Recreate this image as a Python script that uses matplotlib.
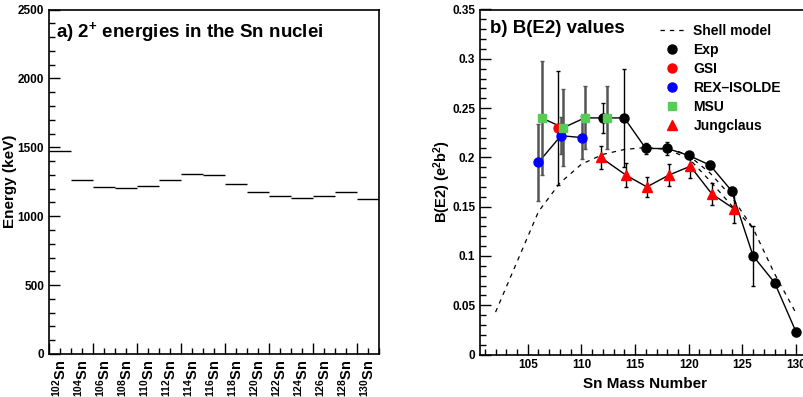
import numpy as np
import matplotlib
matplotlib.use('Agg')
import matplotlib.pyplot as plt
from matplotlib.ticker import MultipleLocator, FixedLocator
from matplotlib.lines import Line2D

plt.rcParams['font.family'] = ['Liberation Sans', 'DejaVu Sans']
plt.rcParams['font.weight'] = 'bold'
plt.rcParams['axes.labelweight'] = 'bold'
plt.rcParams['mathtext.fontset'] = 'custom'
plt.rcParams['mathtext.rm'] = 'Liberation Sans:bold'
plt.rcParams['mathtext.it'] = 'Liberation Sans:bold'
plt.rcParams['mathtext.bf'] = 'Liberation Sans:bold'

# a) energie 2+ (keV)
mass = [102, 104, 106, 108, 110, 112, 114, 116, 118, 120, 122, 124, 126, 128, 130]
energy = [1475, 1262, 1209, 1206, 1216, 1260, 1306, 1296, 1235, 1175, 1143, 1134, 1143, 1172, 1126]
labels = [r'$^{%d}$Sn' % m for m in mass]

# b) B(E2)
shell_x = [102, 104, 106, 108, 110, 112, 114, 116, 118, 120, 122, 124, 126, 128, 130]
shell_y = [0.043, 0.094, 0.145, 0.174, 0.193, 0.203, 0.208, 0.210, 0.208, 0.199, 0.176, 0.151, 0.128, 0.082, 0.042]
shell2_x = [119, 120, 122, 124, 126]
shell2_y = [0.206, 0.202, 0.184, 0.160, 0.128]

exp_x = [112, 114, 116, 118, 120, 122, 124, 126, 128, 130]
exp_y = [0.240, 0.240, 0.209, 0.209, 0.202, 0.192, 0.166, 0.100, 0.073, 0.023]
exp_err = [0.015, 0.050, 0.006, 0.007, 0.003, 0.004, 0.004, 0.030, 0.004, 0.004]

gsi_x = [107.85]
gsi_y = [0.230]
gsi_err = [0.058]

rex_x = [106.0, 108.1, 110.1]
rex_y = [0.195, 0.222, 0.220]
rex_err = [0.039, 0.019, 0.022]

msu_x = [106.3, 108.3, 110.3, 112.35]
msu_y = [0.240, 0.230, 0.240, 0.240]
msu_err = [0.058, 0.039, 0.032, 0.032]

jung_x = [111.8, 114.15, 116.1, 118.15, 120.15, 122.15, 124.2]
jung_y = [0.200, 0.182, 0.170, 0.182, 0.191, 0.163, 0.148]
jung_err = [0.012, 0.012, 0.010, 0.011, 0.012, 0.011, 0.015]

W, H = 804, 397
fig = plt.figure(figsize=(W / 100, H / 100), dpi=100)

def tick_style(ax):
    ax.tick_params(which='both', direction='in', labelsize=8.5, width=1)
    ax.tick_params(which='major', length=8)
    ax.tick_params(which='minor', length=4)
    for s in ax.spines.values():
        s.set_linewidth(1.2)

# ---- panel a ----
ax1 = fig.add_axes([49 / W, (H - 354) / H, 330 / W, 344.5 / H])
pos = np.arange(len(mass)) + 0.5
ax1.hlines(energy, pos - 0.5, pos + 0.5, color='k', lw=1)
ax1.set_xlim(0, len(mass))
ax1.set_ylim(0, 2500)
ax1.yaxis.set_major_locator(MultipleLocator(500))
ax1.yaxis.set_minor_locator(MultipleLocator(100))
ax1.xaxis.set_major_locator(FixedLocator(np.arange(0, 16, 2)))
ax1.xaxis.set_minor_locator(MultipleLocator(0.5))
ax1.xaxis.set_major_formatter(plt.NullFormatter())
tick_style(ax1)
for p, lab in zip(pos, labels):
    ax1.text(p, -40, lab, rotation=90, ha='center', va='top', fontsize=10.5,
             transform=ax1.transData)
ax1.set_ylabel('Energy (keV)', fontsize=11)
ax1.yaxis.set_label_coords(-32 / 330, 0.5)
ax1.text(0.02, 0.935, r'a) 2$^{+}$ energies in the Sn nuclei', transform=ax1.transAxes,
         fontsize=13.5, va='center', ha='left')

# ---- panel b ----
ax2 = fig.add_axes([480 / W, (H - 354.5) / H, 330 / W, 345 / H])
ax2.plot(shell_x, shell_y, 'k--', lw=0.9, dashes=(3.5, 4))
ax2.plot(shell2_x, shell2_y, 'k--', lw=0.9, dashes=(3.5, 4))

ax2.errorbar(exp_x, exp_y, yerr=exp_err, fmt='o-', color='k', ms=6.5, lw=1,
             elinewidth=1, capsize=1.5)
ax2.errorbar(gsi_x, gsi_y, yerr=gsi_err, fmt='o', color='red', ecolor='k', ms=6.5,
             elinewidth=1, capsize=1.5)
ax2.errorbar(rex_x, rex_y, yerr=rex_err, fmt='o', color='blue', ecolor='#555555', ms=6.5,
             elinewidth=1.8, capsize=1.5)
ax2.plot(rex_x, rex_y, 'k-', lw=1, zorder=1.5)
ax2.errorbar(msu_x, msu_y, yerr=msu_err, fmt='s', color='#55cc55', ecolor='#555555', ms=6,
             elinewidth=1.8, capsize=1.5)
ax2.plot(msu_x, msu_y, 'k-', lw=1, zorder=1.5)
ax2.errorbar(jung_x, jung_y, yerr=jung_err, fmt='^-', color='k', mfc='red', mec='red',
             ms=7, lw=1, elinewidth=1, capsize=1.5)

ax2.set_xlim(100.55, 100.55 + 330 / 10.73)
ax2.set_ylim(0, 0.35)
ax2.xaxis.set_major_locator(MultipleLocator(5))
ax2.xaxis.set_minor_locator(MultipleLocator(1))
ax2.yaxis.set_major_locator(MultipleLocator(0.05))
ax2.yaxis.set_minor_locator(MultipleLocator(0.01))
ax2.yaxis.set_major_formatter(plt.FuncFormatter(lambda v, p: '0' if v == 0 else ('%.2f' % v).rstrip('0')))
tick_style(ax2)
ax2.set_xlabel('Sn Mass Number', fontsize=11)
ax2.set_ylabel(r'B(E2) (e$^{2}$b$^{2}$)', fontsize=10.5)
ax2.yaxis.set_label_coords(-27 / 330, 0.5)
ax2.text(0.03, 0.945, 'b) B(E2) values', transform=ax2.transAxes, fontsize=13.5,
         va='center', ha='left')

leg_handles = [
    Line2D([], [], color='k', ls='--', lw=0.9, dashes=(3.5, 4)),
    Line2D([], [], marker='o', color='k', ls='none', ms=6.5),
    Line2D([], [], marker='o', color='red', ls='none', ms=6.5),
    Line2D([], [], marker='o', color='blue', ls='none', ms=6.5),
    Line2D([], [], marker='s', color='#55cc55', ls='none', ms=6),
    Line2D([], [], marker='^', color='red', ls='none', ms=7),
]
leg_labels = ['Shell model', 'Exp', 'GSI', 'REX\u2013ISOLDE', 'MSU', 'Jungclaus']
fig.legend(leg_handles, leg_labels, loc='upper left', bbox_to_anchor=(660 / W, 1 - 24 / H),
           frameon=False, fontsize=10, handlelength=1.7, handletextpad=0.7,
           labelspacing=0.36, borderpad=0, borderaxespad=0)

fig.savefig('out.png', dpi=100)
